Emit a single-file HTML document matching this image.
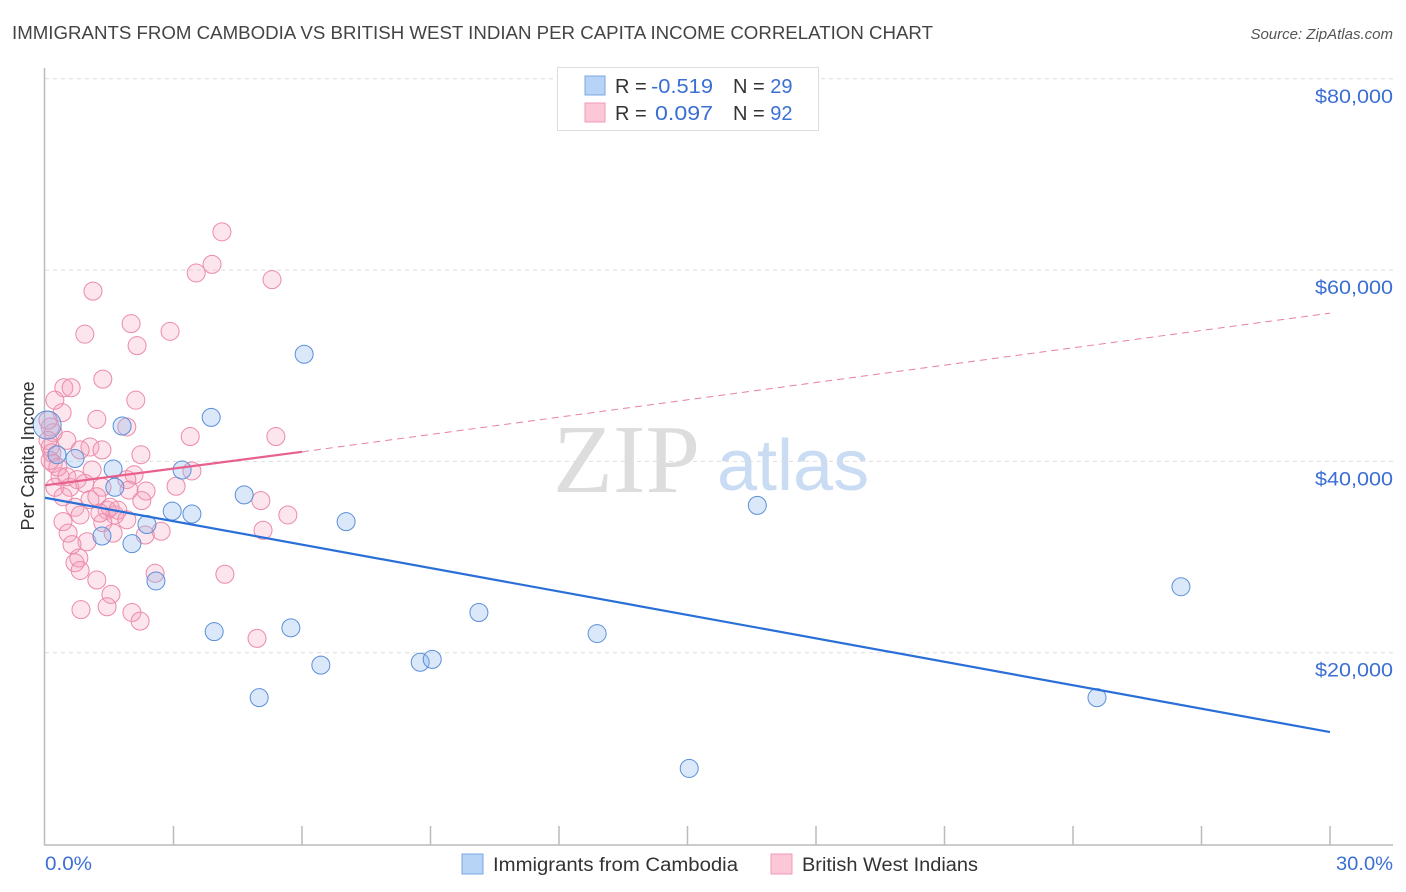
<!DOCTYPE html>
<html><head><meta charset="utf-8"><style>
body{margin:0;background:#fff;font-family:"Liberation Sans",sans-serif;}
#wrap{position:relative;width:1406px;height:892px;overflow:hidden;}
</style></head><body>
<div id="wrap">
<svg id="svg" width="1406" height="892" xmlns="http://www.w3.org/2000/svg">
<text x="12" y="39" font-size="18" fill="#444" textLength="921" lengthAdjust="spacingAndGlyphs">IMMIGRANTS FROM CAMBODIA VS BRITISH WEST INDIAN PER CAPITA INCOME CORRELATION CHART</text>
<text x="1393" y="39" font-size="15" fill="#555" font-style="italic" text-anchor="end">Source: ZipAtlas.com</text>
<text x="553" y="492" font-size="98" fill="#ddd" font-family="Liberation Serif,serif">ZIP</text>
<text x="717" y="490" font-size="72" fill="#c9dcf3">atlas</text>
<g id="grid"></g>
<g id="axes"></g>
<g id="marks"></g>
<text transform="translate(34,456) rotate(-90)" font-size="18" fill="#333" text-anchor="middle">Per Capita Income</text>
<g>
<rect x="557.5" y="67.5" width="261" height="63" fill="#fff" stroke="#ddd"/>
<rect x="585" y="76" width="20" height="19" fill="#b7d3f6" stroke="#7aa7e3"/>
<rect x="585" y="103" width="20" height="19" fill="#fcc8d8" stroke="#f09ab5"/>
<text x="615" y="93" font-size="20" fill="#333">R = <tspan fill="#3b6fd4" x="651" textLength="62" lengthAdjust="spacingAndGlyphs">-0.519</tspan></text>
<text x="733" y="93" font-size="20" fill="#333">N = <tspan fill="#3b6fd4">29</tspan></text>
<text x="615" y="120" font-size="20" fill="#333">R = <tspan fill="#3b6fd4" x="655" textLength="58" lengthAdjust="spacingAndGlyphs">0.097</tspan></text>
<text x="733" y="120" font-size="20" fill="#333">N = <tspan fill="#3b6fd4">92</tspan></text>
</g>
<g>
<rect x="462" y="854" width="21" height="20" fill="#b7d3f6" stroke="#7aa7e3"/>
<text x="493" y="871" font-size="19" fill="#333" textLength="245" lengthAdjust="spacingAndGlyphs">Immigrants from Cambodia</text>
<rect x="771" y="854" width="21" height="20" fill="#fcc8d8" stroke="#f09ab5"/>
<text x="802" y="871" font-size="19" fill="#333" textLength="176" lengthAdjust="spacingAndGlyphs">British West Indians</text>
</g>
</svg>
</div>
<script>
const yTicks=[20000,40000,60000,80000];
const yTickLabels=["$20,000","$40,000","$60,000","$80,000"];
const xTicks=[0,3,6,9,12,15,18,21,24,27,30];
const blueX=[0.05,0.28,0.70,1.59,1.80,1.63,1.33,2.03,2.38,2.59,2.97,3.20,3.43,3.88,3.95,4.65,5.00,5.74,6.05,6.44,7.03,8.76,9.04,10.13,12.89,15.04,16.63,24.56,26.52];
const blueY=[43.8,40.7,40.3,39.2,43.7,37.3,32.2,31.4,33.4,27.5,34.8,39.1,34.5,44.6,22.2,36.5,15.3,22.6,51.2,18.7,33.7,19.0,19.3,24.2,22.0,7.9,35.4,15.3,26.9];
const pinkX=[4.13,3.90,3.53,5.30,1.12,2.01,2.92,0.93,2.15,1.35,0.44,0.61,2.12,0.40,1.21,1.91,3.39,5.39,0.51,0.19,0.12,1.05,1.33,2.24,0.82,1.10,2.08,3.43,1.91,0.35,0.23,0.58,1.33,1.96,2.36,3.06,5.04,5.67,2.26,0.42,0.70,1.05,0.82,1.45,1.63,1.91,1.35,0.42,5.09,2.71,2.34,0.54,1.59,0.98,0.63,0.79,0.70,0.82,2.57,4.20,1.21,1.54,1.45,0.84,2.03,2.22,4.95,0.12,0.07,0.16,0.19,0.30,0.51,0.75,0.93,1.21,1.52,1.70,1.28,0.23,0.12,0.07];
const pinkY=[64.0,60.6,59.7,59.0,57.8,54.4,53.6,53.3,52.1,48.6,47.7,47.7,46.4,45.1,44.4,43.6,42.6,42.6,42.2,43.0,41.5,41.5,41.2,40.7,41.2,39.1,38.6,39.0,38.1,38.4,37.3,37.3,37.3,37.0,36.9,37.4,35.9,34.4,35.9,36.3,35.2,36.0,34.4,34.9,34.4,33.9,33.6,33.7,32.8,32.7,32.3,32.5,32.5,31.6,31.3,29.9,29.4,28.6,28.3,28.2,27.6,26.1,24.8,24.5,24.2,23.3,21.5,43.6,42.2,40.9,39.8,39.4,38.4,38.1,37.7,36.3,35.2,34.9,34.6,46.4,40.1,44.3];
const blueTrend=[0,36.2,30,11.7];
const pinkTrend=[0,37.5,6,41.0,30,55.5];
const NS="http://www.w3.org/2000/svg";
const X0=45,X1=1330,Y0=844,PX_PER_K=191.3/20;
function sx(v){return X0+(v/30)*(X1-X0);}
function sy(k){return Y0-k*PX_PER_K;}
function mk(tag,attrs,parent){const e=document.createElementNS(NS,tag);for(const k in attrs)e.setAttribute(k,attrs[k]);parent.appendChild(e);return e;}
const grid=document.getElementById('grid'),axes=document.getElementById('axes'),marks=document.getElementById('marks');
yTicks.forEach((t,i)=>{
 const y=sy(t/1000);
 const l=mk('line',{x1:45,x2:1393,y1:y,y2:y,stroke:'#ddd','stroke-dasharray':'4,4'},grid);
 
 
 const tx=mk('text',{x:1393,y:y+24,'font-size':19,fill:'#3b6fd4','text-anchor':'end',textLength:78,lengthAdjust:'spacingAndGlyphs'},axes);
 tx.textContent=yTickLabels[i];
 
 
});
const ya=mk('line',{x1:44.5,x2:44.5,y1:68,y2:845,stroke:'#bbb','stroke-width':1.5},axes);


const xa=mk('line',{x1:44,x2:1393,y1:845,y2:845,stroke:'#bbb','stroke-width':1.5},axes);


xTicks.forEach(t=>{
 if(t===0)return;
 const x=sx(t);
 const l=mk('line',{x1:x,x2:x,y1:826,y2:845,stroke:'#bbb','stroke-width':1.5},axes);
 
 
});
const xl0=mk('text',{x:45,y:870,'font-size':19,fill:'#3b6fd4',textLength:47,lengthAdjust:'spacingAndGlyphs'},axes);xl0.textContent='0.0%';


const xl1=mk('text',{x:1393,y:870,'font-size':19,fill:'#3b6fd4','text-anchor':'end',textLength:57,lengthAdjust:'spacingAndGlyphs'},axes);xl1.textContent='30.0%';


pinkX.forEach((v,i)=>{
 const c=mk('circle',{cx:sx(v),cy:sy(pinkY[i]),r:9,fill:'rgba(246,160,190,0.28)',stroke:'#ec8aa8','stroke-width':1},marks);
 
 
});
blueX.forEach((v,i)=>{
 const c=mk('circle',{cx:sx(v),cy:sy(blueY[i]),r:i===0?14:9,fill:'rgba(140,185,235,0.32)',stroke:'#5b8fd9','stroke-width':1},marks);
 
 
});
const bl=mk('line',{x1:sx(blueTrend[0]),y1:sy(blueTrend[1]),x2:sx(blueTrend[2]),y2:sy(blueTrend[3]),stroke:'#2a6fd8','stroke-width':2.2},marks);


const pl=mk('line',{x1:sx(pinkTrend[0]),y1:sy(pinkTrend[1]),x2:sx(pinkTrend[2]),y2:sy(pinkTrend[3]),stroke:'#e8608c','stroke-width':2.2},marks);


const pd=mk('line',{x1:sx(pinkTrend[2]),y1:sy(pinkTrend[3]),x2:sx(pinkTrend[4]),y2:sy(pinkTrend[5]),stroke:'#e8809f','stroke-width':1,'stroke-dasharray':'7,5'},marks);


</script>
</body></html>
